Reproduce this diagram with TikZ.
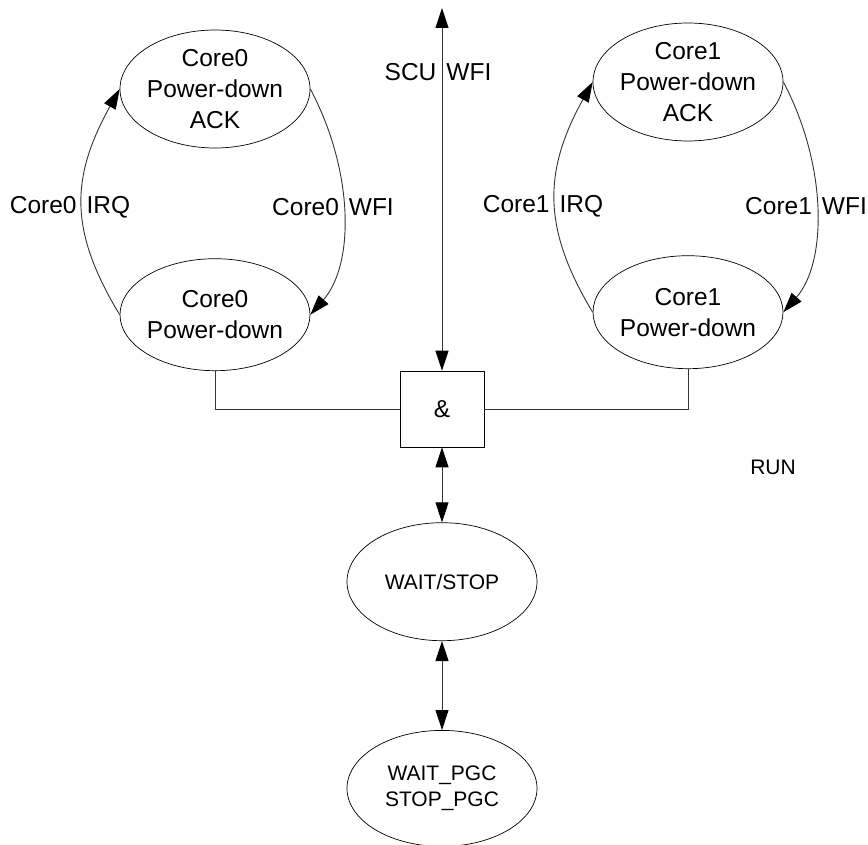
\documentclass[tikz,border=0pt]{standalone}
\usepackage{fontspec}
\setmainfont{Liberation Sans}
\usetikzlibrary{arrows.meta,positioning,shapes.geometric,calc}

\begin{document}
\begin{tikzpicture}[x=1pt,y=-1pt,
  st/.style={draw,ellipse,line width=0.7pt,inner sep=-4pt,minimum width=190pt,minimum height=118pt,align=center,font=\fontsize{24.5}{31}\selectfont},
  sm/.style={font=\fontsize{21}{26}\selectfont,align=center},
  lbl/.style={inner sep=0pt,font=\fontsize{24.5}{31}\selectfont},
  ln/.style={draw=black!80,line width=0.9pt},
  >={Triangle[length=20pt,width=13pt,color=black]}]
 \useasboundingbox (0,0) rectangle (868,845);
 % core 0 loop
 \node[st] (ack0) at (215,89) {Core0\\Power-down\\ACK};
 \node[st,minimum height=112pt,below=110pt of ack0] (pd0) {Core0\\Power-down};
 % core 1 loop
 \node[st] (ack1) at (688,82) {Core1\\Power-down\\ACK};
 \node[st,minimum height=113pt,below=114pt of ack1] (pd1) {Core1\\Power-down};
 % gate and system states
 \node[draw,line width=0.7pt,minimum width=84pt,minimum height=76pt,font=\fontsize{24.5}{31}\selectfont] (and) at (442,409) {\&};
 \node[st,sm,minimum height=118pt,below=75pt of and] (ws) {WAIT/STOP};
 \node[st,sm,minimum height=116pt,below=89pt of ws] (pgc) {WAIT\_PGC\\STOP\_PGC};
 \node[sm,inner sep=0pt] (run) at (773,467) {RUN};
 \coordinate (scu) at (442,8);
 % labels
 \node[lbl] (l0irq) at (70,207) {Core0\hspace{10pt}IRQ};
 \node[lbl] (l0wfi) at (333,207) {Core0\hspace{10pt}WFI};
 \node[lbl] (l1irq) at (543,206) {Core1\hspace{10pt}IRQ};
 \node[lbl] (l1wfi) at (806,206) {Core1\hspace{10pt}WFI};
 \node[lbl] (lscu) at (438,72) {SCU\hspace{10pt}WFI};
 % transitions
 \draw[ln,->] (pd0.west) .. controls ($(pd0.west)+(-50,-83)$) and ($(ack0.west)+(-50,90)$) .. (ack0.west);
 \draw[ln,->] (ack0.east) .. controls ($(ack0.east)+(44,83)$) and ($(pd0.east)+(44,-50)$) .. (pd0.east);
 \draw[ln,->] (pd1.west) .. controls ($(pd1.west)+(-50,-83)$) and ($(ack1.west)+(-50,90)$) .. (ack1.west);
 \draw[ln,->] (ack1.east) .. controls ($(ack1.east)+(44,83)$) and ($(pd1.east)+(44,-50)$) .. (pd1.east);
 \draw[ln,<->] (scu) -- (and);
 \draw[ln,<->] (and) -- (ws);
 \draw[ln,<->] (ws) -- (pgc);
 \draw[ln] (pd0.south) |- (and.west);
 \draw[ln] (pd1.south) |- (and.east);
\end{tikzpicture}
\end{document}
